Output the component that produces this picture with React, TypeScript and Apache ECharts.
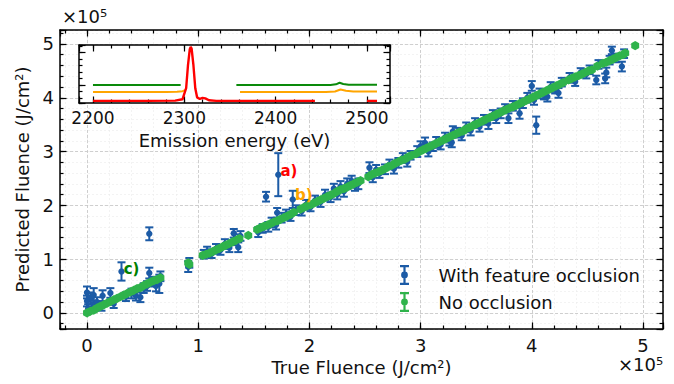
import React, { useEffect, useRef } from 'react';
import * as echarts from 'echarts';

const FONT = 'DejaVu Sans';
const blueColor = '#1c5ba6';
const greenColor = '#2fb34b';

// [true, predicted, error] (x1e5)
const withOcclusion: number[][] = [
  [0.00, 0.38, 0.11], [0.00, 0.22, 0.10], [0.01, 0.08, 0.08], [0.03, 0.27, 0.11], [0.06, 0.33, 0.13],
  [0.06, 0.14, 0.09], [0.09, 0.20, 0.09], [0.14, 0.32, 0.10], [0.13, 0.12, 0.08], [0.21, 0.37, 0.09],
  [0.24, 0.17, 0.08], [0.31, 0.77, 0.17], [0.35, 0.30, 0.08], [0.40, 0.36, 0.09], [0.44, 0.32, 0.09],
  [0.48, 0.29, 0.09], [0.51, 0.46, 0.09], [0.54, 0.50, 0.09], [0.56, 0.74, 0.10], [0.56, 1.47, 0.12],
  [0.59, 0.58, 0.09], [0.62, 0.50, 0.10], [0.65, 0.54, 0.17], [0.66, 0.68, 0.09],
  [0.91, 0.86, 0.10], [0.92, 0.93, 0.09],
  [1.05, 1.09, 0.08], [1.08, 1.14, 0.09], [1.12, 1.10, 0.08], [1.16, 1.19, 0.09], [1.20, 1.17, 0.09],
  [1.24, 1.28, 0.09], [1.28, 1.21, 0.08], [1.32, 1.48, 0.08], [1.33, 1.36, 0.10], [1.36, 1.22, 0.09],
  [1.38, 1.43, 0.09],
  [1.54, 1.50, 0.09], [1.58, 1.57, 0.08], [1.61, 2.16, 0.09], [1.63, 1.60, 0.09], [1.66, 1.68, 0.09],
  [1.70, 1.64, 0.09], [1.71, 1.86, 0.09], [1.72, 2.57, 0.40], [1.75, 1.77, 0.09], [1.79, 1.83, 0.09],
  [1.83, 1.79, 0.08], [1.85, 2.11, 0.16], [1.88, 1.91, 0.09],
  [1.93, 1.89, 0.08], [1.97, 2.01, 0.09], [2.01, 1.97, 0.08], [2.05, 2.09, 0.09], [2.10, 2.06, 0.09],
  [2.14, 2.19, 0.10], [2.19, 2.15, 0.09], [2.22, 2.31, 0.09], [2.25, 2.20, 0.09], [2.28, 2.35, 0.10],
  [2.31, 2.26, 0.10], [2.34, 2.40, 0.10], [2.38, 2.45, 0.10], [2.41, 2.36, 0.09], [2.44, 2.40, 0.10],
  [2.54, 2.70, 0.10], [2.57, 2.52, 0.09], [2.60, 2.66, 0.09], [2.63, 2.59, 0.08], [2.68, 2.67, 0.09],
  [2.72, 2.76, 0.09], [2.76, 2.68, 0.09], [2.80, 2.79, 0.09], [2.84, 2.88, 0.09], [2.88, 2.81, 0.09],
  [2.91, 2.93, 0.08],
  [2.97, 3.00, 0.10], [3.00, 3.10, 0.09], [3.04, 3.16, 0.10], [3.07, 3.00, 0.09], [3.11, 3.09, 0.08],
  [3.14, 3.17, 0.10], [3.18, 3.13, 0.09], [3.22, 3.26, 0.09], [3.26, 3.20, 0.09], [3.29, 3.37, 0.10],
  [3.28, 3.17, 0.09], [3.33, 3.35, 0.09], [3.37, 3.30, 0.09], [3.41, 3.45, 0.09], [3.45, 3.39, 0.09],
  [3.49, 3.53, 0.09], [3.53, 3.46, 0.09], [3.57, 3.59, 0.09], [3.61, 3.52, 0.10], [3.65, 3.68, 0.09],
  [3.68, 3.62, 0.09], [3.72, 3.71, 0.09], [3.76, 3.80, 0.08], [3.79, 3.62, 0.09], [3.83, 3.85, 0.09],
  [3.89, 3.71, 0.10], [3.92, 3.90, 0.09], [3.96, 4.00, 0.09], [4.00, 4.22, 0.09], [4.02, 3.96, 0.09],
  [4.04, 3.49, 0.16], [4.07, 4.08, 0.09], [4.11, 4.05, 0.08], [4.14, 4.02, 0.09], [4.17, 4.20, 0.09],
  [4.21, 4.16, 0.08], [4.24, 4.09, 0.09], [4.27, 4.29, 0.08],
  [4.34, 4.37, 0.09], [4.39, 4.30, 0.08], [4.44, 4.47, 0.08], [4.49, 4.44, 0.08], [4.52, 4.52, 0.08],
  [4.58, 4.33, 0.08], [4.60, 4.62, 0.08], [4.66, 4.36, 0.09], [4.67, 4.47, 0.09], [4.70, 4.70, 0.08],
  [4.72, 4.88, 0.07], [4.76, 4.74, 0.08], [4.81, 4.58, 0.09], [4.83, 4.82, 0.08],
];

// [true, predicted] (x1e5)
const noOcclusion: number[][] = [
  [0.00, 0.00], [0.03, 0.03], [0.06, 0.05], [0.09, 0.09], [0.12, 0.12], [0.15, 0.15], [0.18, 0.18],
  [0.21, 0.21], [0.24, 0.24], [0.27, 0.27], [0.30, 0.30], [0.33, 0.33], [0.36, 0.36], [0.39, 0.39],
  [0.42, 0.42], [0.45, 0.45], [0.48, 0.47], [0.51, 0.51], [0.54, 0.54], [0.57, 0.57], [0.60, 0.60],
  [0.63, 0.62], [0.66, 0.65],
  [0.91, 0.93], [0.92, 0.90],
  [1.04, 1.07], [1.07, 1.09], [1.10, 1.11], [1.13, 1.14], [1.16, 1.17], [1.19, 1.20], [1.22, 1.23],
  [1.25, 1.26], [1.28, 1.29], [1.31, 1.32], [1.34, 1.35], [1.37, 1.38],
  [1.45, 1.44],
  [1.53, 1.55], [1.56, 1.58], [1.59, 1.61], [1.62, 1.63], [1.65, 1.66], [1.68, 1.69], [1.71, 1.71],
  [1.74, 1.74], [1.77, 1.77], [1.80, 1.80], [1.83, 1.83], [1.86, 1.87],
  [1.92, 1.93], [1.95, 1.96], [1.98, 1.99], [2.01, 2.01], [2.04, 2.04], [2.07, 2.07], [2.10, 2.10],
  [2.13, 2.13], [2.16, 2.16], [2.19, 2.19], [2.22, 2.22], [2.25, 2.26], [2.28, 2.29], [2.31, 2.31],
  [2.34, 2.34], [2.37, 2.37], [2.40, 2.40], [2.43, 2.43], [2.46, 2.46],
  [2.53, 2.53], [2.56, 2.57], [2.59, 2.60], [2.62, 2.62], [2.65, 2.65], [2.68, 2.68], [2.71, 2.72],
  [2.74, 2.74], [2.77, 2.78], [2.80, 2.81], [2.83, 2.84], [2.86, 2.86], [2.89, 2.90], [2.92, 2.93],
  [2.96, 2.96], [2.99, 3.00], [3.02, 3.03], [3.05, 3.06], [3.08, 3.09], [3.11, 3.12], [3.14, 3.15],
  [3.17, 3.18], [3.20, 3.21], [3.23, 3.24], [3.26, 3.27], [3.29, 3.30], [3.32, 3.33], [3.35, 3.36],
  [3.38, 3.38], [3.41, 3.42], [3.44, 3.45], [3.47, 3.48], [3.50, 3.51], [3.53, 3.54], [3.56, 3.57],
  [3.59, 3.60], [3.62, 3.63], [3.65, 3.66], [3.68, 3.69], [3.71, 3.72], [3.74, 3.75], [3.77, 3.78],
  [3.80, 3.81], [3.83, 3.83], [3.86, 3.86], [3.89, 3.89], [3.92, 3.92], [3.95, 3.95], [3.98, 3.98],
  [4.01, 4.01], [4.04, 4.04], [4.07, 4.07], [4.10, 4.10], [4.13, 4.13], [4.16, 4.16], [4.19, 4.19],
  [4.22, 4.22], [4.25, 4.25], [4.28, 4.28],
  [4.33, 4.33], [4.36, 4.36], [4.39, 4.39], [4.42, 4.41], [4.45, 4.44], [4.48, 4.47], [4.51, 4.50],
  [4.54, 4.52],
  [4.59, 4.59],
  [4.64, 4.64], [4.67, 4.66], [4.70, 4.69], [4.73, 4.72], [4.76, 4.75], [4.79, 4.78], [4.82, 4.80],
  [4.84, 4.83],
  [4.93, 4.97],
];

const annLabels = ['a)', 'b)', 'c)'];
const annX = [1.74, 1.87, 0.33];
const annY = [2.63, 2.19, 0.82];
const annColors = ['#ff0000', '#ffa500', '#008000'];

// inset spectra: [energy (eV), intensity (arb.)]
const insetGreenA = [[2200, 1.0], [2296, 1.0]];
const insetGreenB = [[2357, 1.0], [2460, 1.0], [2466, 1.02], [2470, 1.07], [2474, 1.03], [2480, 1.01], [2511, 1.01]];
const insetOrangeA = [[2200, 0.785], [2280, 0.785], [2292, 0.79], [2298, 0.81], [2301, 0.84]];
const insetOrangeB = [[2361, 0.785], [2455, 0.785], [2465, 0.8], [2471, 0.86], [2477, 0.82], [2485, 0.8], [2511, 0.8]];
const insetRedA = [
  [2200, 0.51], [2260, 0.51], [2290, 0.52], [2298, 0.56], [2302, 0.9], [2304, 1.6], [2306, 2.1],
  [2307, 2.17], [2308, 2.12], [2310, 1.6], [2312, 0.9], [2314, 0.62], [2317, 0.57], [2320, 0.6],
  [2323, 0.59], [2327, 0.53], [2335, 0.51], [2443, 0.51],
];
const insetRedB = [[2500, 0.51], [2511, 0.51]];

const intFmt = (v: number) => (Math.abs(v - Math.round(v)) < 1e-6 ? String(Math.round(v)) : '');
const hundredFmt = (v: number) => (Math.abs(v / 100 - Math.round(v / 100)) < 1e-6 ? String(Math.round(v)) : '');

// error-bar legend glyph (all sub-paths clockwise so nonzero fill keeps them solid)
const errIcon =
  'path://M0.5,0H9.5V2.2H0.5ZM0.5,17.8H9.5V20H0.5ZM3.9,0H6.1V20H3.9ZM1.6,10A3.4,3.4,0,1,1,8.4,10A3.4,3.4,0,1,1,1.6,10Z';

function makeRender(color: string, kind: 'circle' | 'hex') {
  return (params: any, api: any) => {
    const x = Number(api.value(0));
    const y = Number(api.value(1));
    const e = Number(api.value(2)) || 0;
    const c = api.coord([x, y]);
    const children: any[] = [];
    if (e > 0) {
      const t = api.coord([x, y + e]);
      const b = api.coord([x, y - e]);
      const st = { stroke: color, lineWidth: 2 };
      children.push({ type: 'line', shape: { x1: c[0], y1: t[1], x2: c[0], y2: b[1] }, style: st });
      children.push({ type: 'line', shape: { x1: c[0] - 4, y1: t[1], x2: c[0] + 4, y2: t[1] }, style: st });
      children.push({ type: 'line', shape: { x1: c[0] - 4, y1: b[1], x2: c[0] + 4, y2: b[1] }, style: st });
    }
    if (kind === 'circle') {
      children.push({ type: 'circle', shape: { cx: c[0], cy: c[1], r: 3.2 }, style: { fill: color } });
    } else {
      const r = 4.6;
      const k = 0.866 * r;
      const h = 0.5 * r;
      children.push({
        type: 'polygon',
        shape: {
          points: [
            [c[0], c[1] - r], [c[0] + k, c[1] - h], [c[0] + k, c[1] + h],
            [c[0], c[1] + r], [c[0] - k, c[1] + h], [c[0] - k, c[1] - h],
          ],
        },
        style: { fill: color },
      });
    }
    return { type: 'group', children };
  };
}

const axisLineStyle = { color: '#000', width: 1.5 };
const tickStyle = { color: '#000', width: 1.2 };
const nameStyle = { fontSize: 18, fontFamily: FONT, color: '#111' };

function buildOption(): any {
  const mainX = { min: -0.243, max: 5.18 };
  const mainY = { min: -0.3, max: 5.26 };
  const insX = { min: 2184.7, max: 2525.2 };
  const insY = { min: 0.446, max: 2.23 };

  const minorAxis = (grid: number, pos: string, ext: any, split: number, minorGrid: boolean) => ({
    type: 'value', gridIndex: grid, position: pos, ...ext, splitNumber: split,
    axisLine: { show: false, onZero: false },
    axisTick: { show: true, inside: true, length: 3.5, lineStyle: tickStyle },
    axisLabel: { show: false },
    splitLine: minorGrid ? { show: true, lineStyle: { color: '#ebebeb', width: 0.6, type: [2, 2] } } : { show: false },
    z: grid === 1 ? 11 : 0,
  });
  const majorAxis = (grid: number, pos: string, ext: any, split: number, extra: any) => ({
    type: 'value', gridIndex: grid, position: pos, ...ext, splitNumber: split,
    axisLine: { show: true, onZero: false, lineStyle: axisLineStyle },
    axisTick: { show: true, inside: true, length: 6.5, lineStyle: tickStyle },
    axisLabel: { show: false },
    splitLine: { show: false },
    z: grid === 1 ? 11 : 0,
    ...extra,
  });

  const xAxis = [
    minorAxis(0, 'bottom', mainX, 27, true),
    majorAxis(0, 'bottom', mainX, 5, {
      axisLabel: { show: true, margin: 7, color: '#111', fontSize: 18, fontFamily: FONT, formatter: intFmt },
      splitLine: { show: true, lineStyle: { color: '#c4c4c4', width: 0.8, type: [3, 2] } },
      name: 'True Fluence (J/cm²)', nameLocation: 'middle', nameGap: 23, nameTextStyle: nameStyle,
    }),
    minorAxis(0, 'top', mainX, 27, false),
    majorAxis(0, 'top', mainX, 5, {}),
    minorAxis(1, 'bottom', insX, 17, false),
    majorAxis(1, 'bottom', insX, 3, {
      axisLabel: { show: true, margin: 6, color: '#111', fontSize: 17, fontFamily: FONT, formatter: hundredFmt },
      name: 'Emission energy (eV)', nameLocation: 'middle', nameGap: 28, nameTextStyle: nameStyle,
    }),
    minorAxis(1, 'top', insX, 17, false),
    majorAxis(1, 'top', insX, 3, {}),
  ];
  const yAxis = [
    minorAxis(0, 'left', mainY, 28, true),
    majorAxis(0, 'left', mainY, 5, {
      axisLabel: { show: true, margin: 6, color: '#111', fontSize: 18, fontFamily: FONT, formatter: intFmt },
      splitLine: { show: true, lineStyle: { color: '#c4c4c4', width: 0.8, type: [3, 2] } },
      name: 'Predicted Fluence (J/cm²)', nameLocation: 'middle', nameGap: 25, nameTextStyle: nameStyle,
    }),
    minorAxis(0, 'right', mainY, 28, false),
    majorAxis(0, 'right', mainY, 5, {}),
    minorAxis(1, 'left', insY, 9, false),
    majorAxis(1, 'left', insY, 2, {}),
    minorAxis(1, 'right', insY, 9, false),
    majorAxis(1, 'right', insY, 2, {}),
  ];

  const insetLine = (data: number[][], color: string, width: number) => ({
    type: 'line', xAxisIndex: 5, yAxisIndex: 5, data, showSymbol: false, symbol: 'none',
    lineStyle: { color, width }, itemStyle: { color }, z: 12, silent: true, clip: true,
  });

  return {
    animation: false,
    backgroundColor: '#ffffff',
    textStyle: { fontFamily: FONT },
    grid: [
      { left: 60, right: 11, top: 30, bottom: 55, show: false },
      { left: 79, top: 45, width: 311, height: 58, show: true, backgroundColor: '#ffffff', borderWidth: 0, z: 10 },
    ],
    xAxis,
    yAxis,
    legend: {
      orient: 'vertical', left: 400, top: 265, padding: 0, itemWidth: 40, itemHeight: 20, itemGap: 7,
      selectedMode: false, symbolKeepAspect: true,
      itemStyle: { borderWidth: 0, opacity: 1 },
      textStyle: { fontSize: 18, fontFamily: FONT, color: '#111', padding: [0, 0, 0, 9], lineHeight: 20 },
      data: [
        {
          name: 'With feature occlusion', icon: errIcon,
          itemStyle: { color: blueColor, borderColor: blueColor, borderWidth: 0, opacity: 1 },
        },
        {
          name: 'No occlusion', icon: errIcon,
          itemStyle: { color: greenColor, borderColor: greenColor, borderWidth: 0, opacity: 1 },
        },
      ],
    },
    graphic: [
      { type: 'text', left: 62, top: 7, style: { text: '×10⁵', font: `18px "${FONT}"`, fill: '#111' } },
      { type: 'text', left: 618, top: 355, style: { text: '×10⁵', font: `18px "${FONT}"`, fill: '#111' } },
    ],
    series: [
      {
        name: 'With feature occlusion', type: 'custom', xAxisIndex: 1, yAxisIndex: 1,
        dimensions: ['x', 'y', 'e'], encode: { x: 0, y: 1 }, data: withOcclusion,
        renderItem: makeRender(blueColor, 'circle'), itemStyle: { color: blueColor }, z: 2, clip: true,
      },
      {
        name: 'No occlusion', type: 'custom', xAxisIndex: 1, yAxisIndex: 1,
        dimensions: ['x', 'y'], encode: { x: 0, y: 1 }, data: noOcclusion,
        renderItem: makeRender(greenColor, 'hex'), itemStyle: { color: greenColor }, z: 3, clip: true,
      },
      {
        name: 'annotations', type: 'custom', xAxisIndex: 1, yAxisIndex: 1,
        encode: { x: 0, y: 1 }, data: annX.map((x, i) => [x, annY[i]]), z: 4, silent: true,
        renderItem: (params: any, api: any) => {
          const c = api.coord([api.value(0), api.value(1)]);
          const i = params.dataIndex;
          return {
            type: 'text', x: c[0], y: c[1],
            style: { text: annLabels[i], fill: annColors[i], font: `bold 15px "${FONT}"`, align: 'left', verticalAlign: 'middle' },
          };
        },
      },
      insetLine(insetGreenA, '#0a8a0a', 2),
      insetLine(insetGreenB, '#0a8a0a', 2),
      insetLine(insetOrangeA, '#ffa500', 2),
      insetLine(insetOrangeB, '#ffa500', 2),
      insetLine(insetRedA, '#ff0000', 2.4),
      insetLine(insetRedB, '#ff0000', 2.4),
    ],
  };
}

export default function App() {
  const ref = useRef<HTMLDivElement>(null);
  useEffect(() => {
    if (!ref.current) return;
    const chart = echarts.init(ref.current, undefined, { renderer: 'svg' });
    chart.setOption(buildOption());
    return () => chart.dispose();
  }, []);
  return (
    <div
      ref={ref}
      style={{ position: 'fixed', left: 0, top: 0, width: 674, height: 384, background: '#fff' }}
    />
  );
}
